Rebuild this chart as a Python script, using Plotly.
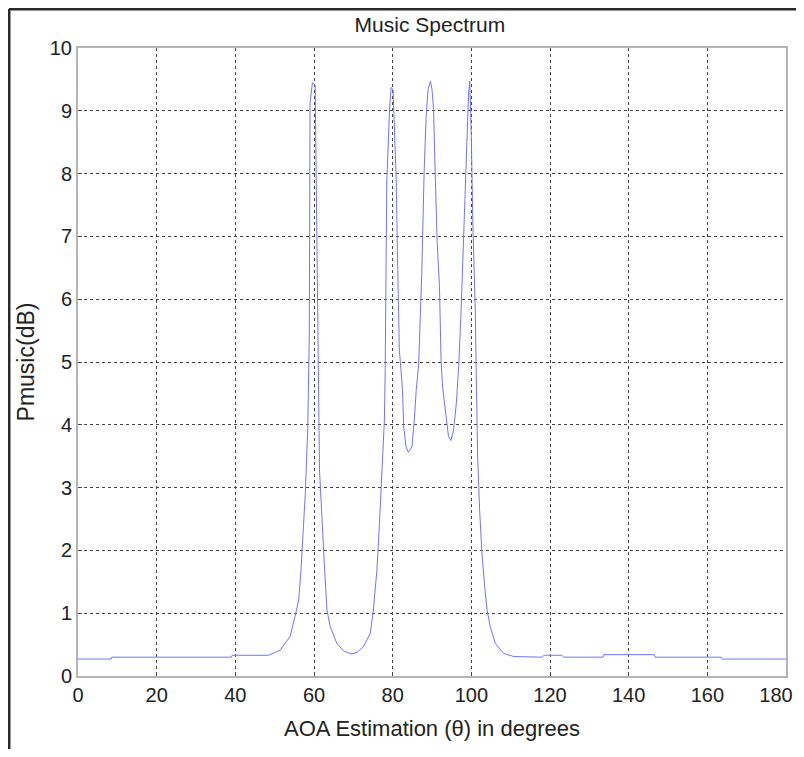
import plotly.graph_objects as go

# AOA angle (degrees) and MUSIC pseudo-spectrum
theta = [0, 8.5, 8.6, 39, 39.2, 48.4, 51.4, 53.9, 55.2, 56.1, 56.7, 57.2, 57.8,
         58.4, 58.6, 58.8, 59.0, 59.6, 60.3, 60.5, 60.9, 61.1, 61.4, 62.0, 62.7,
         63.3, 64.1, 65.8, 67.5, 69.6, 71.0, 72.6, 74.3, 75.1, 76.0, 76.6, 77.3,
         77.9, 78.1, 78.5, 79.2, 79.6, 80.1, 80.4, 80.9, 81.2, 81.7, 82.1, 82.5,
         82.8, 83.4, 84.0, 84.9, 85.5, 86.0, 86.6, 87.0, 87.4, 88.0, 88.5, 89.0,
         89.6, 90.0, 90.4, 90.8, 91.3, 91.9, 92.3, 92.7, 93.4, 94.2, 94.8, 95.5,
         96.2, 96.8, 97.4, 97.9, 98.5, 98.9, 99.3, 99.6, 100.0, 100.4, 101.0,
         101.3, 101.6, 102.1, 102.7, 103.4, 104.0, 104.8, 106.1, 108.2, 110.8,
         118.0, 118.5, 123.0, 123.5, 133.5, 133.7, 146.5, 146.7, 163.5, 163.8, 180]
pmusic = [0.27, 0.27, 0.30, 0.30, 0.33, 0.33, 0.41, 0.63, 0.95, 1.21, 1.69, 2.22, 2.92,
          3.92, 4.90, 5.40, 9.13, 9.45, 9.40, 8.00, 5.83, 4.88, 3.28, 2.49, 1.69,
          1.05, 0.79, 0.52, 0.40, 0.35, 0.38, 0.47, 0.68, 1.05, 1.69, 2.38, 3.28,
          4.08, 4.88, 7.85, 9.02, 9.37, 9.34, 8.85, 7.90, 6.78, 5.19, 4.88, 4.56,
          3.97, 3.65, 3.56, 3.65, 4.08, 4.56, 4.95, 5.67, 6.42, 8.03, 8.89, 9.34,
          9.47, 9.34, 9.02, 8.03, 6.93, 6.20, 5.03, 4.60, 4.18, 3.81, 3.75, 3.92,
          4.35, 4.95, 5.83, 6.83, 7.68, 8.74, 9.28, 9.47, 8.58, 7.15, 5.83,
          4.60, 3.50, 2.65, 1.96, 1.42, 1.05, 0.79, 0.52, 0.36, 0.31,
          0.30, 0.33, 0.33, 0.30, 0.30, 0.34, 0.34, 0.30, 0.30, 0.27, 0.27]

x_ticks = [0, 20, 40, 60, 80, 100, 120, 140, 160, 180]
# last label padded so it is not clipped at the page edge
x_ticktext = ['0', '20', '40', '60', '80', '100', '120', '140', '160', '180\u2003']
y_ticks = [0, 1, 2, 3, 4, 5, 6, 7, 8, 9, 10]

fig = go.Figure(go.Scatter(
    x=theta, y=pmusic, mode='lines',
    line=dict(color='#7373ff', width=1),
    showlegend=False
))

axis_style = dict(
    showgrid=True, gridcolor='#444', gridwidth=1, griddash='3px,3px',
    showline=True, linecolor='#b4b4b4', linewidth=2, mirror=True,
    ticks='inside', ticklen=4, tickcolor='#444',
    zeroline=False, automargin=False, ticklabeloverflow='allow',
    tickfont=dict(family='Liberation Sans, Arial', size=20, color='#222'),
)

# the page body adds an 8px margin, so the figure is sized to avoid scrollbars
fig.update_layout(
    width=796, height=741,
    plot_bgcolor='white', paper_bgcolor='white',
    font=dict(family='Liberation Sans, Arial', color='#222'),
    margin=dict(l=70, r=18, t=40, b=73),
    title=dict(text='Music Spectrum', x=0.53, xanchor='center', y=0.977,
               yanchor='middle', font=dict(size=21, color='#222')),
    xaxis=dict(range=[0, 180], tickvals=x_ticks, ticktext=x_ticktext,
               title=dict(text='AOA Estimation (θ) in degrees', font=dict(size=22), standoff=16),
               **axis_style),
    yaxis=dict(range=[0, 10], tickvals=y_ticks,
               title=dict(text='Pmusic(dB)', font=dict(size=23), standoff=9),
               **axis_style),
)

# dark frame along the top and left edges of the picture
fig.add_shape(type='line', xref='paper', yref='paper', x0=-0.0975, x1=1.05, y0=1.062, y1=1.062,
              line=dict(color='#2a2a2a', width=3))
fig.add_shape(type='line', xref='paper', yref='paper', x0=-0.0975, x1=-0.0975, y0=-0.15, y1=1.062,
              line=dict(color='#2a2a2a', width=3))

fig.write_html("out.html")
